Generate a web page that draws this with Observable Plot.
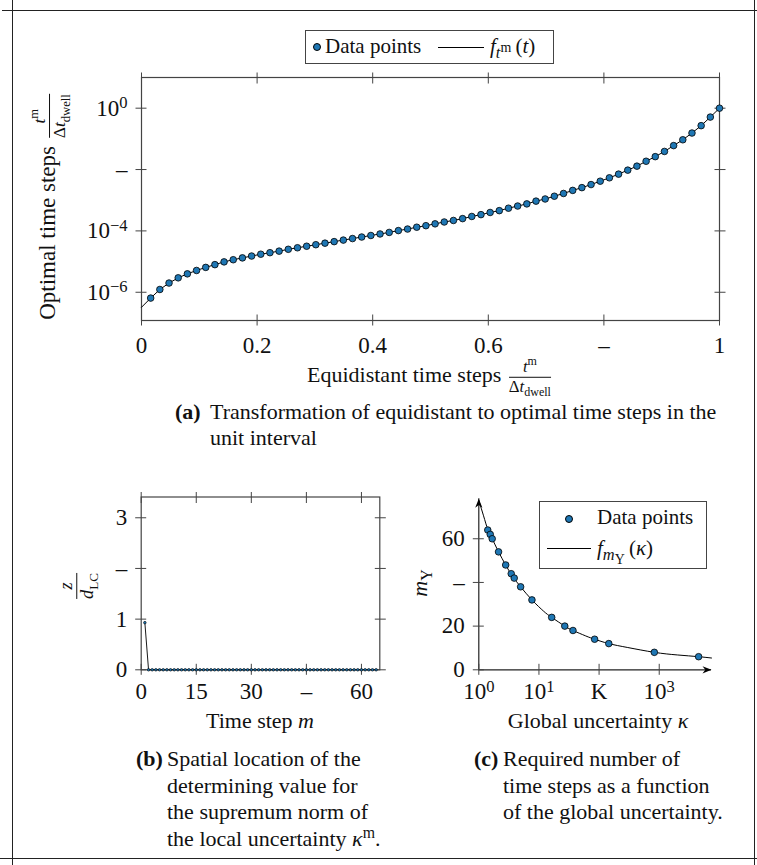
<!DOCTYPE html>
<html>
<head>
<meta charset="utf-8">
<script src="https://cdn.jsdelivr.net/npm/d3@7"></script>
<script src="https://cdn.jsdelivr.net/npm/@observablehq/plot@0.6"></script>
<style>
  html, body { margin: 0; padding: 0; background: #fff; }
  #root { position: relative; width: 757px; height: 865px; overflow: hidden;
          font-family: "Liberation Serif", "DejaVu Serif", serif; color: #111; font-size: 22px; }
  .abs { position: absolute; }
  .hl { position: absolute; height: 0; border-top: 1.4px solid #222; }
  .vl { position: absolute; width: 0; border-left: 1.4px solid #222; }
  .frac { display: inline-flex; flex-direction: column; vertical-align: middle; text-align: center;
          font-size: 0.76em; line-height: 1.0; margin: 0 2px; }
  .frac > span:first-child { border-bottom: 1px solid #111; padding: 0 2px 1px 2px; }
  .frac > span:last-child { padding-top: 1px; }
  sub, sup { font-size: 0.72em; line-height: 0; }
  .legend { position: absolute; border: 1.2px solid #444; background: #fff; font-size: 21px; }
  .legend > * { position: absolute; white-space: nowrap; }
  .ldot { width: 6px; height: 6px; border-radius: 50%; background: #1f77b4; border: 1px solid #000; }
  .lline { height: 0; border-top: 1.2px solid #000; }
  .cap { position: absolute; display: flex; line-height: 26.5px; white-space: nowrap; }
  .cap b { font-weight: bold; }
  .rot { position: absolute; white-space: nowrap; line-height: 1; transform: translate(-50%, -50%) rotate(-90deg); }
  .ctr { position: absolute; white-space: nowrap; line-height: 1; transform: translate(-50%, -50%); }
  .sub2 { font-size: 0.85em; }
</style>
</head>
<body>
<div id="root">
  <div class="hl" style="top:10px;left:2px;width:755px"></div>
  <div class="hl" style="top:858px;left:0;width:757px"></div>
  <div class="vl" style="left:12px;top:0;height:865px"></div>
  <div class="vl" style="left:754px;top:0;height:865px"></div>

  <div id="chartA" class="abs" style="left:0;top:0"></div>
  <div id="chartB" class="abs" style="left:0;top:440px"></div>
  <div id="chartC" class="abs" style="left:400px;top:440px"></div>

  <!-- Legend (a) -->
  <div class="legend" style="left:305px;top:30px;width:247px;height:32px">
    <div class="ldot" style="left:7px;top:12px"></div>
    <div style="left:19px;top:3px">Data points</div>
    <div class="lline" style="left:132px;top:16px;width:46px"></div>
    <div style="left:184px;top:3px"><i>f</i><sub style="font-size:0.78em"><i>t</i><sup class="sub2">m</sup></sub>&#8201;(<i>t</i>)</div>
  </div>

  <!-- Legend (c) -->
  <div class="legend" style="left:539px;top:501px;width:166px;height:66px">
    <div class="ldot" style="left:25px;top:13px"></div>
    <div style="left:57px;top:3px">Data points</div>
    <div class="lline" style="left:7px;top:46px;width:44px"></div>
    <div style="left:57px;top:34px"><i>f</i><sub style="font-size:0.78em"><i>m</i><sub class="sub2">&#933;</sub></sub>&#8201;(<i>&#954;</i>)</div>
  </div>

  <!-- Axis titles -->
  <div class="rot" style="left:50px;top:206px;font-size:23px">Optimal time steps <span class="frac"><span><i>t</i><sup>m</sup></span><span>&#916;<i>t</i><sub>dwell</sub></span></span></div>
  <div class="ctr" style="left:430px;top:377px">Equidistant time steps <span class="frac"><span><i>t</i><sup>m</sup></span><span>&#916;<i>t</i><sub>dwell</sub></span></span></div>

  <div class="rot" style="left:77px;top:586px;font-size:24px"><span class="frac"><span><i>z</i></span><span><i>d</i><sub>LC</sub></span></span></div>
  <div class="ctr" style="left:260px;top:721px">Time step <i>m</i></div>

  <div class="rot" style="left:420px;top:583px"><i>m</i><sub>&#933;</sub></div>
  <div class="ctr" style="left:598px;top:721px">Global uncertainty <i>&#954;</i></div>

  <!-- Captions -->
  <div class="cap" style="left:175px;top:399px;line-height:26px">
    <b style="width:35px">(a)</b>
    <div>Transformation of equidistant to optimal time steps in the<br>unit interval</div>
  </div>
  <div class="cap" style="left:136px;top:746px">
    <b style="width:31px">(b)</b>
    <div>Spatial location of the<br>determining value for<br>the supremum norm of<br>the local uncertainty <i>&#954;</i><sup>m</sup>.</div>
  </div>
  <div class="cap" style="left:474px;top:746px">
    <b style="width:29px">(c)</b>
    <div>Required number of<br>time steps as a function<br>of the global uncertainty.</div>
  </div>
</div>

<script>
// ---------------- Data ----------------
// Panel (a): optimal time steps (log10 values) at 63 equidistant steps t^m/Δt_dwell = m/63
const xTicksA = [0, 0.2, 0.4, 0.6, 0.8, 1];
const xTickLabelsA = ["0", "0.2", "0.4", "0.6", "–", "1"];
const yTicksA = [1e-6, 1e-4, 1e-2, 1];
const yTickLabelsA = ["10^−6", "10^−4", "–", "10^0"];
const log10StepsA = [
  -6.19, -5.91, -5.70, -5.53, -5.40, -5.29, -5.19, -5.10, -5.01, -4.94,
  -4.88, -4.82, -4.76, -4.71, -4.66, -4.60, -4.55, -4.50, -4.45, -4.40,
  -4.35, -4.30, -4.25, -4.20, -4.15, -4.10, -4.05, -3.99, -3.94, -3.88,
  -3.83, -3.77, -3.71, -3.66, -3.60, -3.53, -3.47, -3.40, -3.34, -3.26,
  -3.19, -3.12, -3.03, -2.96, -2.87, -2.78, -2.68, -2.59, -2.49, -2.38,
  -2.27, -2.15, -2.02, -1.89, -1.73, -1.58, -1.41, -1.22, -1.03, -0.81,
  -0.57, -0.29, 0
];
const curveStartA = { t: 0, log10: -6.49 };

// Panel (b): spatial location z/d_LC per time step m
const xTicksB = [0, 15, 30, 45, 60];
const xTickLabelsB = ["0", "15", "30", "–", "60"];
const yTicksB = [0, 1, 2, 3];
const yTickLabelsB = ["0", "1", "–", "3"];
const stepsB = [
  1, 2, 3, 4, 5, 6, 7, 8, 9, 10, 11, 12, 13, 14, 15, 16,
  17, 18, 19, 20, 21, 22, 23, 24, 25, 26, 27, 28, 29, 30, 31, 32,
  33, 34, 35, 36, 37, 38, 39, 40, 41, 42, 43, 44, 45, 46, 47, 48,
  49, 50, 51, 52, 53, 54, 55, 56, 57, 58, 59, 60, 61, 62, 63, 64
];
const valuesB = [
  0.93, 0, 0, 0, 0, 0, 0, 0, 0, 0, 0, 0, 0, 0, 0, 0,
  0, 0, 0, 0, 0, 0, 0, 0, 0, 0, 0, 0, 0, 0, 0, 0,
  0, 0, 0, 0, 0, 0, 0, 0, 0, 0, 0, 0, 0, 0, 0, 0,
  0, 0, 0, 0, 0, 0, 0, 0, 0, 0, 0, 0, 0, 0, 0, 0
];

// Panel (c): required number of time steps vs global uncertainty
const xTicksC = [1, 10, 100, 1000];
const xTickLabelsC = ["10^0", "10^1", "K", "10^3"];
const yTicksC = [0, 20, 40, 60];
const yTickLabelsC = ["0", "20", "–", "60"];
const kappaC = [1.41, 1.55, 1.67, 2.13, 2.8, 3.46, 3.88, 4.96, 7.65, 16.3, 26.9, 36.8, 84.3, 145, 829, 4520];
const mC     = [64,   62,   60,   54,   48,  44,   42,   38,   32,   24,   20,   18,   14,   12,  8,   6];
const curveKappaC = [1, 1.2, 1.41, 1.67, 2.13, 2.8, 3.6, 4.96, 7.65, 12, 16.3, 26.9, 36.8, 60, 84.3, 145, 300, 829, 2000, 4520, 7400];
const curveMC     = [77.5, 70.5, 64.3, 60, 54, 48, 43, 38, 32, 26.8, 24, 20, 18, 15.5, 14, 12, 10.2, 8, 6.8, 6, 5.4];

// ---------------- Helpers ----------------
const labelFmt = (ticks, labels) => {
  const m = new Map(ticks.map((t, i) => [t, labels[i]]));
  return d => m.has(d) ? m.get(d) : "";
};
function crossTicks(svg, len) {
  const s = d3.select(svg);
  s.selectAll('g[aria-label="x-axis tick"] path').attr("d", `M0,${-len}L0,${len}`);
  s.selectAll('g[aria-label="y-axis tick"] path').attr("d", `M${-len},0L${len},0`);
}
function supLabels(svg) {
  d3.select(svg).selectAll('g[aria-label$="tick label"] text').each(function () {
    const s = this.textContent;
    const m = s.match(/^10\^(.+)$/);
    if (m) {
      const t = d3.select(this);
      t.text("10");
      t.append("tspan").attr("dy", "-0.45em").attr("font-size", "0.72em").text(m[1]);
    }
  });
}
const svgStyle = { fontFamily: '"Liberation Serif", serif', fontSize: "23px", background: "transparent", color: "#111", overflow: "visible" };
const tickStroke = "#444";
const FS = 23;

// ---------------- Panel (a) ----------------
const pointsA = log10StepsA.map((e, i) => ({ t: (i + 1) / log10StepsA.length, v: Math.pow(10, e) }));
const curveA = [{ t: curveStartA.t, v: Math.pow(10, curveStartA.log10) }, ...pointsA];
const chartA = Plot.plot({
  width: 757, height: 370,
  marginTop: 77, marginBottom: 50, marginLeft: 141, marginRight: 38,
  style: svgStyle,
  x: { domain: [0, 1] },
  y: { type: "log", domain: [1.2e-7, 10] },
  marks: [
    Plot.frame({ stroke: tickStroke, strokeWidth: 1.2 }),
    Plot.axisX({ anchor: "bottom", ticks: xTicksA, tickFormat: labelFmt(xTicksA, xTickLabelsA), tickSize: 6, tickPadding: 10, stroke: tickStroke, fontSize: FS, label: null }),
    Plot.axisX({ anchor: "top", ticks: xTicksA, tickFormat: () => "", tickSize: 6, stroke: tickStroke, label: null }),
    Plot.axisY({ anchor: "left", ticks: yTicksA, tickFormat: labelFmt(yTicksA, yTickLabelsA), tickSize: 6, tickPadding: 8, stroke: tickStroke, fontSize: FS, label: null }),
    Plot.axisY({ anchor: "right", ticks: yTicksA, tickFormat: () => "", tickSize: 6, stroke: tickStroke, label: null }),
    Plot.line(curveA, { x: "t", y: "v", stroke: "#000", strokeWidth: 1 }),
    Plot.dot(pointsA, { x: "t", y: "v", r: 3.3, fill: "#1f77b4", stroke: "#000", strokeWidth: 0.8 })
  ]
});
crossTicks(chartA, 5.5); supLabels(chartA);
document.getElementById("chartA").appendChild(chartA);

// ---------------- Panel (b) ----------------
const pointsB = stepsB.map((m, i) => ({ m, z: valuesB[i] }));
const chartB = Plot.plot({
  width: 400, height: 300,
  marginTop: 56.5, marginBottom: 70.7, marginLeft: 140.7, marginRight: 20.7,
  style: svgStyle,
  x: { domain: [0, 65] },
  y: { domain: [0, 3.41] },
  marks: [
    Plot.frame({ stroke: tickStroke, strokeWidth: 1.2 }),
    Plot.axisX({ anchor: "bottom", ticks: xTicksB, tickFormat: labelFmt(xTicksB, xTickLabelsB), tickSize: 6, tickPadding: 7, stroke: tickStroke, fontSize: FS, label: null }),
    Plot.axisX({ anchor: "top", ticks: xTicksB, tickFormat: () => "", tickSize: 6, stroke: tickStroke, label: null }),
    Plot.axisY({ anchor: "left", ticks: yTicksB, tickFormat: labelFmt(yTicksB, yTickLabelsB), tickSize: 6, tickPadding: 8, stroke: tickStroke, fontSize: FS, label: null }),
    Plot.axisY({ anchor: "right", ticks: yTicksB, tickFormat: () => "", tickSize: 6, stroke: tickStroke, label: null }),
    Plot.line(pointsB, { x: "m", y: "z", stroke: "#000", strokeWidth: 0.9 }),
    Plot.dot(pointsB, { x: "m", y: "z", r: 1.3, fill: "#1f77b4", stroke: "#000", strokeWidth: 0.6 })
  ]
});
crossTicks(chartB, 5.5);
document.getElementById("chartB").appendChild(chartB);

// ---------------- Panel (c) ----------------
const pointsC = kappaC.map((k, i) => ({ k, m: mC[i] }));
const curveC = curveKappaC.map((k, i) => ({ k, m: curveMC[i] }));
const xMaxC = 7400, yMaxC = 78.3;
const arrowHead = {
  draw(ctx) {
    ctx.moveTo(0, 0);
    ctx.lineTo(3.6, 9);
    ctx.lineTo(0, 6.2);
    ctx.lineTo(-3.6, 9);
    ctx.closePath();
  }
};
const chartC = Plot.plot({
  width: 357, height: 300,
  marginTop: 58.3, marginBottom: 70.7, marginLeft: 78.3, marginRight: 46,
  style: svgStyle,
  x: { type: "log", domain: [1, xMaxC] },
  y: { domain: [0, yMaxC] },
  marks: [
    Plot.ruleY([0], { x1: 1, x2: xMaxC, stroke: "#222", strokeWidth: 1.2 }),
    Plot.ruleX([1], { y1: 0, y2: yMaxC, stroke: "#222", strokeWidth: 1.2 }),
    Plot.axisX({ anchor: "bottom", ticks: xTicksC, tickFormat: labelFmt(xTicksC, xTickLabelsC), tickSize: 6, tickPadding: 7, stroke: tickStroke, fontSize: FS, label: null }),
    Plot.axisY({ anchor: "left", ticks: yTicksC, tickFormat: labelFmt(yTicksC, yTickLabelsC), tickSize: 6, tickPadding: 8, stroke: tickStroke, fontSize: FS, label: null }),
    Plot.line(curveC, { x: "k", y: "m", curve: "natural", stroke: "#000", strokeWidth: 1 }),
    Plot.dot(pointsC, { x: "k", y: "m", r: 3.3, fill: "#1f77b4", stroke: "#000", strokeWidth: 0.8 }),
    Plot.dot([{ x: xMaxC, y: 0, rot: 90 }, { x: 1, y: yMaxC, rot: 0 }], { x: "x", y: "y", rotate: "rot", symbol: arrowHead, r: 4, fill: "#000", stroke: "none" })
  ]
});
crossTicks(chartC, 5.5); supLabels(chartC);
document.getElementById("chartC").appendChild(chartC);
</script>
</body>
</html>
